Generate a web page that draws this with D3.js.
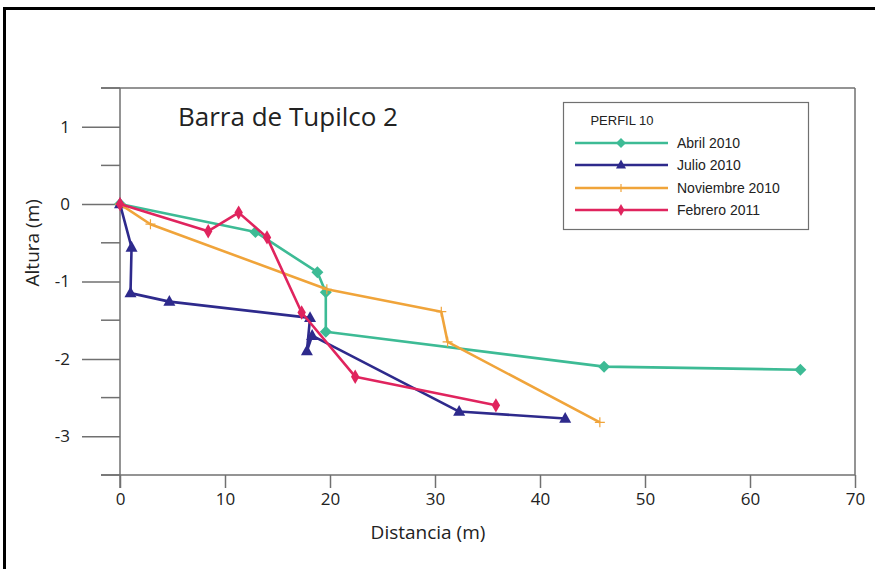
<!DOCTYPE html>
<html>
<head>
<meta charset="utf-8">
<script src="https://cdn.jsdelivr.net/npm/d3@7"></script>
<style>
html,body{margin:0;padding:0;background:#fff;}
svg{display:block;}
</style>
</head>
<body>
<svg id="chart" width="875" height="569"></svg>
<script>
// ---- data ----
const seriesNames = ["Abril 2010", "Julio 2010", "Noviembre 2010", "Febrero 2011"];
const abrilX = [0, 12.9, 18.8, 19.6, 19.6, 46.1, 64.8];
const abrilY = [0, -0.36, -0.88, -1.14, -1.65, -2.10, -2.14];
const julioX = [0, 1.1, 1.0, 4.7, 18.1, 17.8, 18.3, 32.3, 42.4];
const julioY = [0, -0.56, -1.15, -1.26, -1.47, -1.90, -1.70, -2.68, -2.77];
const noviembreX = [0, 2.9, 19.7, 30.6, 31.2, 45.7];
const noviembreY = [0, -0.26, -1.10, -1.39, -1.78, -2.82];
const febreroX = [0, 8.4, 11.3, 14.0, 17.3, 22.4, 35.8];
const febreroY = [0, -0.35, -0.11, -0.43, -1.40, -2.23, -2.60];
const colors = ["#3dbb95", "#2e2a8c", "#f0a43a", "#e0245e"];
const markers = ["diamond", "triangle", "plus", "diamondV"];
const xTicks = [0, 10, 20, 30, 40, 50, 60, 70];
const yTicks = [1, 0, -1, -2, -3];
const yMinor = [1.5, 0.5, -0.5, -1.5, -2.5, -3.5];

const series = [
  {name: seriesNames[0], xs: abrilX, ys: abrilY},
  {name: seriesNames[1], xs: julioX, ys: julioY},
  {name: seriesNames[2], xs: noviembreX, ys: noviembreY},
  {name: seriesNames[3], xs: febreroX, ys: febreroY}
];

const svg = d3.select("#chart");
const axisColor = "#707070";
const tickFont = "'Open Sans', sans-serif";

// outer frame (left & top visible)
svg.append("line").attr("x1", 4.5).attr("x2", 4.5).attr("y1", 7).attr("y2", 569).attr("stroke", "#000").attr("stroke-width", 3);
svg.append("line").attr("x1", 3).attr("x2", 875).attr("y1", 8.5).attr("y2", 8.5).attr("stroke", "#000").attr("stroke-width", 3);

const x = d3.scaleLinear().domain([0, 70]).range([120, 855]);
const y = d3.scaleLinear().domain([-3.5, 1.5]).range([475, 88]);

// top line & right line
svg.append("line").attr("x1", 101).attr("x2", x(70)).attr("y1", y(1.5)).attr("y2", y(1.5)).attr("stroke", axisColor).attr("stroke-width", 1.5);
svg.append("line").attr("x1", x(70)).attr("x2", x(70)).attr("y1", y(1.5)).attr("y2", y(-3.5)).attr("stroke", axisColor).attr("stroke-width", 1.5);

// x axis
const xAxis = d3.axisBottom(x).tickValues(xTicks).tickSize(13).tickSizeOuter(0).tickPadding(5);
const gx = svg.append("g").attr("transform", `translate(0,${y(-3.5)})`).call(xAxis);
gx.select(".domain").attr("stroke", axisColor).attr("stroke-width", 1.5).attr("d", `M101,0H${x(70)}`);
gx.selectAll(".tick line").attr("stroke", axisColor).attr("stroke-width", 1.5);
gx.selectAll(".tick text").attr("fill", "#222").style("font-family", tickFont).style("font-size", "17px");

// y axis
const yAxis = d3.axisLeft(y).tickValues(yTicks).tickSize(38).tickSizeOuter(0).tickPadding(12)
  .tickFormat(d => String(d).replace("\u2212", "-"));
const gy = svg.append("g").attr("transform", `translate(${x(0)},0)`).call(yAxis);
gy.select(".domain").attr("stroke", axisColor).attr("stroke-width", 1.5).attr("d", `M0,${y(1.5)}V${y(-3.5) + 13}`);
gy.selectAll(".tick line").attr("stroke", axisColor).attr("stroke-width", 1.5);
gy.selectAll(".tick text").attr("fill", "#222").style("font-family", tickFont).style("font-size", "17px");
// minor ticks
svg.append("g").selectAll("line").data(yMinor).join("line")
  .attr("x1", 101).attr("x2", x(0)).attr("y1", d => y(d)).attr("y2", d => y(d))
  .attr("stroke", axisColor).attr("stroke-width", 1.5);

// axis titles
svg.append("text").attr("x", 428).attr("y", 539).attr("text-anchor", "middle")
  .style("font-family", tickFont).style("font-size", "19px").attr("fill", "#222").text("Distancia (m)");
svg.append("text").attr("transform", `translate(39,${y(-0.5)}) rotate(-90)`).attr("text-anchor", "middle")
  .style("font-family", tickFont).style("font-size", "19px").attr("fill", "#222").text("Altura (m)");

// title
svg.append("text").attr("x", 178).attr("y", 126)
  .style("font-family", tickFont).style("font-size", "26px").attr("fill", "#222").text("Barra de Tupilco 2");

// markers
function drawMarker(g, type, color, cx, cy, s) {
  if (type === "diamond") {
    g.append("path").attr("d", `M${cx},${cy - s}L${cx + s},${cy}L${cx},${cy + s}L${cx - s},${cy}Z`).attr("fill", color);
  } else if (type === "triangle") {
    g.append("path").attr("d", `M${cx},${cy - s * 1.1}L${cx + s},${cy + s * 0.7}L${cx - s},${cy + s * 0.7}Z`).attr("fill", color);
  } else if (type === "plus") {
    g.append("path").attr("d", `M${cx - s},${cy}H${cx + s}M${cx},${cy - s}V${cy + s}`).attr("stroke", color).attr("stroke-width", 1.2);
  } else if (type === "diamondV") {
    g.append("path").attr("d", `M${cx},${cy - s * 1.2}L${cx + s * 0.7},${cy}L${cx},${cy + s * 1.2}L${cx - s * 0.7},${cy}Z`).attr("fill", color);
  }
}

const line = d3.line().x(d => x(d[0])).y(d => y(d[1]));
series.forEach((s, i) => {
  const pts = s.xs.map((v, j) => [v, s.ys[j]]);
  const g = svg.append("g");
  g.append("path").attr("d", line(pts)).attr("fill", "none").attr("stroke", colors[i])
    .attr("stroke-width", 2.6).attr("stroke-linejoin", "round");
  pts.forEach(p => drawMarker(g, markers[i], colors[i], x(p[0]), y(p[1]), i === 2 ? 5 : 6));
});

// legend
const lg = svg.append("g");
lg.append("rect").attr("x", 563.5).attr("y", 102.5).attr("width", 245).attr("height", 127)
  .attr("fill", "#fff").attr("stroke", axisColor).attr("stroke-width", 1.2);
lg.append("text").attr("x", 622).attr("y", 125).attr("text-anchor", "middle")
  .style("font-family", "'Liberation Sans', Arial, sans-serif").style("font-size", "13px").attr("fill", "#222").text("PERFIL 10");
const rowY = [143, 165, 188, 210];
seriesNames.forEach((n, i) => {
  lg.append("line").attr("x1", 575).attr("x2", 668).attr("y1", rowY[i]).attr("y2", rowY[i])
    .attr("stroke", colors[i]).attr("stroke-width", 2.6);
  drawMarker(lg, markers[i], colors[i], 621, rowY[i], i === 2 ? 4 : 5);
  lg.append("text").attr("x", 677).attr("y", rowY[i] + 5)
    .style("font-family", "'Liberation Sans', Arial, sans-serif").style("font-size", "14px").attr("fill", "#222").text(n);
});
</script>
</body>
</html>
